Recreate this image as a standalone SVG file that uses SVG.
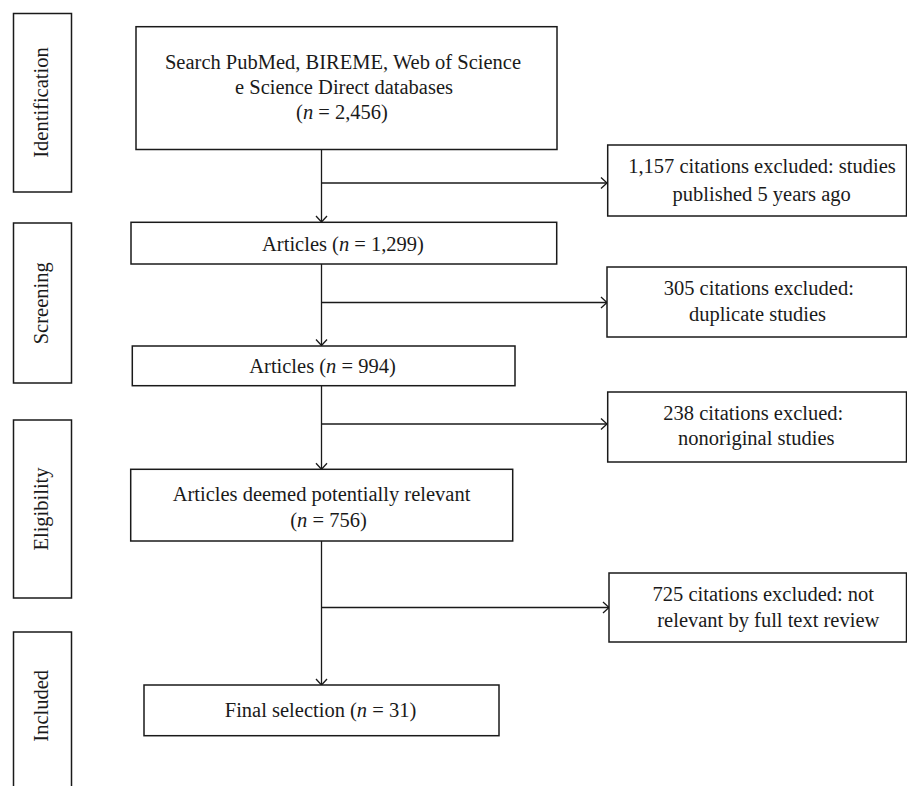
<svg xmlns="http://www.w3.org/2000/svg" width="907" height="786" viewBox="0 0 907 786">
<style>
  .box { fill: #ffffff; stroke: #1a1a1a; stroke-width: 1.5; }
  .ln { fill: none; stroke: #1a1a1a; stroke-width: 1.3; }
  text { font-family: "Liberation Serif", "Times New Roman", serif; font-size: 20.5px; fill: #1a1a1a; text-anchor: middle; }
  .it { font-style: italic; }
</style>
<defs>
  <marker id="arr" viewBox="-8 -7 10 14" markerWidth="10" markerHeight="14" refX="0" refY="0" markerUnits="userSpaceOnUse" orient="auto">
    <path d="M-6,-5.5 L0,0 L-6,5.5" fill="none" stroke="#1a1a1a" stroke-width="1.3"/>
  </marker>
</defs>
<rect width="907" height="786" fill="#ffffff"/>

<g id="stage-identification">
  <rect class="box" x="13.5" y="13.5" width="58" height="178.5"/>
  <text transform="translate(48.3,102.5) rotate(-90)">Identification</text>
</g>
<g id="stage-screening">
  <rect class="box" x="13.5" y="223" width="58" height="160"/>
  <text transform="translate(48.3,303.3) rotate(-90)">Screening</text>
</g>
<g id="stage-eligibility">
  <rect class="box" x="13.5" y="420" width="58" height="178"/>
  <text transform="translate(48.3,509) rotate(-90)">Eligibility</text>
</g>
<g id="stage-included">
  <rect class="box" x="13.5" y="632" width="58" height="170"/>
  <text transform="translate(48.3,705.8) rotate(-90)">Included</text>
</g>

<g id="connectors">
  <line class="ln" x1="321.5" y1="150" x2="321.5" y2="222" marker-end="url(#arr)"/>
  <line class="ln" x1="321.5" y1="183" x2="607" y2="183" marker-end="url(#arr)"/>
  <line class="ln" x1="321.5" y1="264" x2="321.5" y2="345.5" marker-end="url(#arr)"/>
  <line class="ln" x1="321.5" y1="302.5" x2="607" y2="302.5" marker-end="url(#arr)"/>
  <line class="ln" x1="321.5" y1="385.7" x2="321.5" y2="469.3" marker-end="url(#arr)"/>
  <line class="ln" x1="321.5" y1="424" x2="607" y2="424" marker-end="url(#arr)"/>
  <line class="ln" x1="321.5" y1="541" x2="321.5" y2="685" marker-end="url(#arr)"/>
  <line class="ln" x1="321.5" y1="607.5" x2="609" y2="607.5" marker-end="url(#arr)"/>
</g>

<g id="search">
  <rect class="box" x="136" y="26.7" width="421" height="122.8"/>
  <text x="343" y="69">Search PubMed, BIREME, Web of Science</text>
  <text x="344" y="94">e Science Direct databases</text>
  <text x="342" y="119">(<tspan class="it">n</tspan> = 2,456)</text>
</g>

<g id="articles-1299">
  <rect class="box" x="131" y="222.3" width="425.7" height="41.7"/>
  <text x="343" y="250.7">Articles (<tspan class="it">n</tspan> = 1,299)</text>
</g>

<g id="articles-994">
  <rect class="box" x="132.3" y="346" width="382.7" height="39.7"/>
  <text x="322.5" y="372.7">Articles (<tspan class="it">n</tspan> = 994)</text>
</g>

<g id="articles-756">
  <rect class="box" x="130.7" y="469.3" width="382" height="71.7"/>
  <text x="321.5" y="500.7">Articles deemed potentially relevant</text>
  <text x="328.5" y="526.7">(<tspan class="it">n</tspan> = 756)</text>
</g>

<g id="final">
  <rect class="box" x="144" y="685" width="355" height="50.7"/>
  <text x="320.5" y="717.3">Final selection (<tspan class="it">n</tspan> = 31)</text>
</g>

<g id="excl-1">
  <rect class="box" x="607.7" y="145" width="298.8" height="71"/>
  <text x="762" y="173.3">1,157 citations excluded: studies</text>
  <text x="761.7" y="200.7">published 5 years ago</text>
</g>

<g id="excl-2">
  <rect class="box" x="607" y="267" width="299.5" height="70"/>
  <text x="758.8" y="295">305 citations excluded:</text>
  <text x="757.5" y="321">duplicate studies</text>
</g>

<g id="excl-3">
  <rect class="box" x="607.7" y="392" width="298.8" height="70"/>
  <text x="753.3" y="420">238 citations exclued:</text>
  <text x="756.2" y="445">nonoriginal studies</text>
</g>

<g id="excl-4">
  <rect class="box" x="609" y="573" width="297.5" height="69"/>
  <text x="763.3" y="600.7">725 citations excluded: not</text>
  <text x="768.3" y="626.7">relevant by full text review</text>
</g>
</svg>
